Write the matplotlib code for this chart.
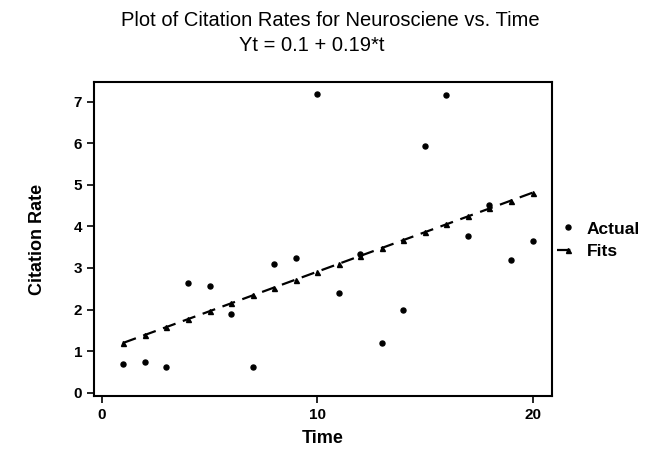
import numpy as np
import matplotlib.pyplot as plt

plt.rcParams['font.family'] = 'Liberation Sans'

# datos
t = np.arange(1, 21)
actual = [0.68, 0.74, 0.61, 2.65, 2.57, 1.90, 0.61, 3.10, 3.24, 7.17,
          2.40, 3.34, 1.20, 2.00, 5.93, 7.15, 3.77, 4.52, 3.20, 3.66]
fits = [1.20, 1.39, 1.58, 1.77, 1.96, 2.15, 2.34, 2.53, 2.72, 2.91,
        3.10, 3.29, 3.48, 3.67, 3.86, 4.05, 4.24, 4.43, 4.62, 4.81]
xticks = [0, 10, 20]
yticks = [0, 1, 2, 3, 4, 5, 6, 7]

fig = plt.figure(figsize=(6.61, 4.66), dpi=100)
ax = fig.add_axes([0.142, 0.150, 0.693, 0.674])

ax.plot(t, actual, 'o', color='black', markersize=3.6, label='Actual', linestyle='none')
ax.plot(t, fits, '^', color='black', markersize=3.6, linestyle=(0, (6, 3.5)),
        linewidth=1.6, label='Fits')

ax.set_xlim(-0.37, 20.9)
ax.set_ylim(-0.08, 7.47)
ax.set_xticks(xticks)
ax.set_yticks(yticks)
ax.tick_params(direction='out', length=5, width=1.2, labelsize=11)
for lab in ax.get_xticklabels() + ax.get_yticklabels():
    lab.set_fontweight('bold')
for s in ax.spines.values():
    s.set_linewidth(1.5)

ax.set_xlabel('Time', fontsize=13, fontweight='bold', labelpad=6)
ax.set_ylabel('Citation Rate', fontsize=13, fontweight='bold', labelpad=20)

fig.text(0.5, 0.955, 'Plot of Citation Rates for Neurosciene vs. Time', ha='center', va='center', fontsize=14.5)
fig.text(0.472, 0.903, 'Yt = 0.1 + 0.19*t', ha='center', va='center', fontsize=14.5)

leg = ax.legend(loc='upper left', bbox_to_anchor=(0.985, 0.595), frameon=False, fontsize=12.5,
                handlelength=1.2, handletextpad=0.5, borderaxespad=0.3, labelspacing=0.45)
for txt in leg.get_texts():
    txt.set_fontweight('bold')

fig.savefig('out.png', dpi=100)
